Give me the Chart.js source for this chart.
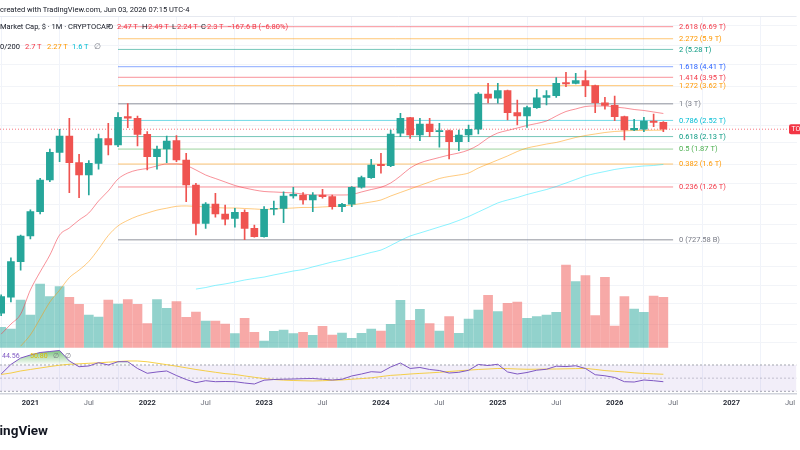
<!DOCTYPE html>
<html><head><meta charset="utf-8">
<script src="https://cdn.jsdelivr.net/npm/chart.js@4.4.1/dist/chart.umd.min.js"></script>
<style>
html,body{margin:0;padding:0;background:#fff;}
#wrap{position:relative;width:800px;height:450px;overflow:hidden;font-family:Roboto,'Noto Sans',sans-serif;}
canvas{position:absolute;left:0;top:0;}
.t{position:absolute;white-space:pre;font-size:7.5px;line-height:1;color:#131722;}
.r{color:#f23645;}
</style></head><body>
<div id="wrap">
<canvas id="c" width="800" height="450"></canvas>
<div class="t" style="left:0;top:6px;">created with TradingView.com, Jun 03, 2026 07:15 UTC-4</div>
<div class="t" style="left:0;top:23px;">Market Cap, $ · 1M · CRYPTOCAP</div>
<div class="t" style="left:108px;top:23px;">O</div>
<div class="t r" style="left:117px;top:23px;">2.47 T</div>
<div class="t" style="left:142px;top:23px;">H</div>
<div class="t r" style="left:148px;top:23px;">2.49 T</div>
<div class="t" style="left:172px;top:23px;">L</div>
<div class="t r" style="left:177px;top:23px;">2.24 T</div>
<div class="t" style="left:201px;top:23px;">C</div>
<div class="t r" style="left:207px;top:23px;">2.3 T</div>
<div class="t r" style="left:227px;top:23px;">−167.6 B (−6.80%)</div>
<div class="t" style="left:0;top:43px;">0/200</div>
<div class="t" style="left:25px;top:43px;color:#f23645;">2.7 T</div>
<div class="t" style="left:47px;top:43px;color:#ff9800;">2.27 T</div>
<div class="t" style="left:72px;top:43px;color:#00bcd4;">1.6 T</div>
<div class="t" style="left:94px;top:43px;color:#787b86;">∅</div>
<div class="t" style="left:2px;top:353px;font-size:7px;color:#7e57c2;">44.56</div>
<div class="t" style="left:30px;top:353px;font-size:7px;color:#e0b800;">50.80</div>
<div class="t" style="left:53px;top:353px;font-size:7px;color:#787b86;">∅</div>
<div class="t" style="left:65px;top:353px;font-size:7px;color:#787b86;">∅</div>
<div class="t" style="right:752px;top:424px;font-size:13.5px;font-weight:bold;color:#131722;">TradingView</div>
</div>
<script>
// ---------- DATA (values in trillions USD, month keys) ----------
const dates = ['2020-10','2020-11','2020-12',
 '2021-01','2021-02','2021-03','2021-04','2021-05','2021-06','2021-07','2021-08','2021-09','2021-10','2021-11','2021-12',
 '2022-01','2022-02','2022-03','2022-04','2022-05','2022-06','2022-07','2022-08','2022-09','2022-10','2022-11','2022-12',
 '2023-01','2023-02','2023-03','2023-04','2023-05','2023-06','2023-07','2023-08','2023-09','2023-10','2023-11','2023-12',
 '2024-01','2024-02','2024-03','2024-04','2024-05','2024-06','2024-07','2024-08','2024-09','2024-10','2024-11','2024-12',
 '2025-01','2025-02','2025-03','2025-04','2025-05','2025-06','2025-07','2025-08','2025-09','2025-10','2025-11','2025-12',
 '2026-01','2026-02','2026-03','2026-04','2026-05','2026-06'];
const open = [0.338,0.40,0.579,
 0.756,0.974,1.355,1.808,2.143,1.623,1.427,1.612,2.084,1.951,2.62,2.577,
 2.181,1.727,1.871,2.041,1.669,1.286,0.863,1.055,0.951,0.909,0.968,0.819,
 0.751,0.999,1.009,1.147,1.159,1.10,1.159,1.139,1.026,1.052,1.256,1.388,
 1.596,1.573,2.204,2.593,2.165,2.428,2.241,2.265,2.02,2.165,2.298,3.319,
 3.174,3.435,2.732,2.639,2.878,3.206,3.261,3.734,3.71,3.812,3.619,3.031,
 2.95,2.62,2.281,2.298,2.505,2.47];
const high = [0.41,0.602,0.764,
 0.992,1.379,1.871,2.298,2.577,1.771,1.657,2.188,2.446,2.732,3.0,2.639,
 2.241,1.931,2.143,2.15,1.79,1.309,1.07,1.18,1.044,1.009,0.992,0.848,
 1.026,1.089,1.199,1.256,1.187,1.187,1.23,1.159,1.063,1.264,1.413,1.681,
 1.79,2.281,2.714,2.604,2.577,2.577,2.446,2.281,2.281,2.403,3.364,3.71,
 3.71,3.46,3.118,2.929,3.485,3.435,3.933,4.161,4.118,4.231,3.641,3.206,
 3.25,2.639,2.55,2.604,2.695,2.49];
const low = [0.33,0.38,0.53,
 0.733,0.951,1.331,1.64,1.187,1.127,1.159,1.515,1.758,1.917,2.336,1.931,
 1.504,1.515,1.623,1.64,1.081,0.764,0.819,0.919,0.848,0.828,0.72758,0.746,
 0.746,0.941,0.868,1.12,1.052,0.974,1.12,0.999,0.974,1.026,1.243,1.379,
 1.453,1.557,2.127,2.092,2.041,2.127,1.905,1.686,1.839,2.02,2.188,3.022,
 3.013,2.531,2.403,2.346,2.858,2.96,3.206,3.581,3.683,3.227,2.732,2.83,
 2.513,2.055,2.265,2.241,2.361,2.24];
const close = [0.402,0.579,0.756,
 0.974,1.355,1.808,2.143,1.623,1.427,1.612,2.084,1.951,2.604,2.577,2.181,
 1.727,1.866,2.034,1.669,1.286,0.863,1.055,0.951,0.90,0.968,0.819,0.751,
 0.999,1.009,1.147,1.167,1.10,1.159,1.139,1.026,1.052,1.256,1.388,1.584,
 1.573,2.188,2.577,2.165,2.428,2.241,2.258,2.02,2.165,2.298,3.319,3.174,
 3.435,2.732,2.639,2.878,3.193,3.261,3.71,3.683,3.812,3.619,3.031,2.95,
 2.62,2.281,2.322,2.505,2.47,2.30];
const volume = [200,183,473,
 323,633,506,606,500,430,323,303,473,433,476,430,
 236,476,390,456,300,353,263,263,233,136,290,150,
 63,160,173,136,150,120,210,123,143,90,140,183,
 163,230,470,270,380,236,163,306,140,283,373,520,
 356,440,453,290,306,323,350,823,656,716,316,700,
 213,506,383,350,513,500];
// moving averages (start month, values)
const maFastStart = '2020-10';
const maFast = [0.272,0.302,0.335,
 0.431,0.520,0.620,0.764,0.822,0.893,0.961,1.089,1.209,1.369,1.457,1.504,
 1.528,1.568,1.601,1.601,1.576,1.504,1.427,1.376,1.327,1.28,1.247,1.221,
 1.202,1.196,1.19,1.184,1.171,1.159,1.159,1.159,1.159,1.165,1.196,1.227,
 1.256,1.313,1.413,1.535,1.618,1.669,1.713,1.758,1.795,1.852,1.951,2.099,
 2.211,2.27,2.329,2.391,2.441,2.505,2.639,2.766,2.839,2.914,2.929,2.929,
 2.898,2.869,2.824,2.795,2.752,2.709];
const maMidStart = '2020-12';
const maMid = [0.24,
 0.27,0.32,0.38,0.43,0.49,0.53,0.58,0.66,0.76,0.84,0.89,0.93,
 0.96,0.99,1.01,1.03,1.034,1.03,1.023,1.018,1.012,1.012,1.007,1.002,
 0.997,1.002,1.007,1.012,1.018,1.018,1.023,1.028,1.034,1.044,1.061,1.078,
 1.10,1.147,1.19,1.234,1.28,1.327,1.376,1.405,1.427,1.457,1.535,1.601,
 1.669,1.74,1.823,1.891,1.931,1.971,2.003,2.055,2.11,2.154,2.188,2.222,
 2.246,2.258,2.27,2.27,2.275,2.277];
const maSlowStart = '2022-06';
const maSlow = [0.435,0.442,0.452,0.459,0.468,0.478,0.486,
 0.493,0.504,0.514,0.525,0.533,0.548,0.562,0.577,0.589,0.604,0.620,0.637,
 0.653,0.685,0.722,0.756,0.780,0.805,0.831,0.857,0.889,0.926,0.971,1.018,
 1.067,1.10,1.129,1.165,1.196,1.227,1.266,1.313,1.362,1.413,1.45,1.48,
 1.512,1.535,1.552,1.568,1.576,1.593];
const rsi = [56.3,70.8,80.6,
 85.2,89.0,90.5,92.1,76.1,67.4,68.5,73.5,70.0,75.0,75.0,64.7,
 57.4,59.4,60.9,54.0,47.9,43.1,46.1,44.6,44.9,44.6,42.6,41.1,
 46.9,47.9,48.4,48.7,49.2,49.5,48.3,47.2,48.3,53.3,56.3,59.8,
 58.9,67.0,73.0,64.7,66.2,63.2,61.6,57.8,58.9,61.9,70.8,69.2,
 71.1,59.4,56.3,58.6,62.1,63.5,68.2,67.6,68.8,64.7,55.2,53.6,
 51.0,44.6,44.1,47.2,46.1,44.56];
const rsiMa = [55.6,57.8,60.9,
 63.2,65.4,67.7,69.7,71.1,71.8,72.6,73.3,74.3,75.2,76.1,76.1,
 74.9,72.7,70.5,68.2,65.7,63.2,61.0,58.9,56.9,55.6,53.4,51.3,
 49.3,47.9,47.0,46.4,46.0,45.7,46.1,46.7,47.3,48.3,49.3,50.5,
 52.4,54.2,55.1,56.3,57.2,58.0,58.9,60.1,61.2,62.2,63.2,63.9,
 64.7,64.5,63.9,63.5,63.6,63.8,63.9,64.2,64.5,64.8,63.3,61.5,
 60.4,59.4,58.1,57.2,56.5,55.9];
const rsiLevels = [70, 50, 30];
// Fibonacci retracement (Nov 2022 low -> Nov 2021 high)
const fibRatios = ['0','0.236','0.382','0.5','0.618','0.786','1','1.272','1.414','1.618','2','2.272','2.618'];
const fibValues = [0.72758,1.26,1.6,1.87,2.13,2.52,3.0,3.62,3.95,4.41,5.28,5.9,6.69];
const fibTexts = ['727.58 B','1.26 T','1.6 T','1.87 T','2.13 T','2.52 T','3 T','3.62 T','3.95 T','4.41 T','5.28 T','5.9 T','6.69 T'];
const fibColors = ['#787b86','#f23645','#ff9800','#4caf50','#089981','#00bcd4','#787b86','#ff9800','#f23645','#2962ff','#089981','#ff9800','#f23645'];
const fibStart = '2021-10', fibEnd = '2026-07';
const lastClose = 2.30;
// time axis
const axisTicks = ['2021-01','2021-07','2022-01','2022-07','2023-01','2023-07','2024-01','2024-07','2025-01','2025-07','2026-01','2026-07','2027-01','2027-07'];
const axisLabels = ['2021','Jul','2022','Jul','2023','Jul','2024','Jul','2025','Jul','2026','Jul','2027','Jul'];
const priceGrid = [0.25,0.3,0.375,0.45,0.55,0.7,0.85,1.05,1.3,1.6,2.0,2.4,3.0,3.6,4.5,5.5,6.8];
// visible ranges (months since Jan 2021 / trillions / volume units / RSI)
const viewFrom = -3.12, viewTo = 78.68;
const PRICE_MIN = 0.1458, PRICE_MAX = 7.479;
const VOL_MIN = -467, VOL_MAX = 3313;
const RSI_MIN = 25.89, RSI_MAX = 600.8;

// ---------- helpers ----------
const mIdx = s => { const [yy, mm] = s.split('-').map(Number); return (yy - 2021) * 12 + (mm - 1); };
const xs = dates.map(mIdx);
const up = close.map((c, i) => c >= open[i]);
const UP = '#26a69a', DOWN = '#ef5350';
const series = (start, vals) => vals.map((v, i) => ({x: mIdx(start) + i, y: v}));
const hline = (v) => [{x: viewFrom, y: v}, {x: viewTo, y: v}];
const hexA = (hex, a) => { const n = parseInt(hex.slice(1), 16); return `rgba(${n>>16},${(n>>8)&255},${n&255},${a})`; };

const datasets = [];
datasets.push({type:'bar', label:'body', yAxisID:'y', order:1, grouped:false, barThickness:7, minBarLength:1,
  data: xs.map((x, i) => ({x, y:[open[i], close[i]]})), backgroundColor: up.map(u => u ? UP : DOWN)});
datasets.push({type:'bar', label:'wick', yAxisID:'y', order:2, grouped:false, barThickness:1,
  data: xs.map((x, i) => ({x, y:[low[i], high[i]]})), backgroundColor: up.map(u => u ? UP : DOWN)});
const lineBase = {type:'line', pointRadius:0, borderWidth:1, fill:false, cubicInterpolationMode:'monotone'};
datasets.push({...lineBase, label:'maFast', yAxisID:'y', order:3, data: series(maFastStart, maFast), borderColor:'rgba(242,54,69,0.55)'});
datasets.push({...lineBase, label:'maMid', yAxisID:'y', order:3, data: series(maMidStart, maMid), borderColor:'rgba(255,152,0,0.5)'});
datasets.push({...lineBase, label:'maSlow', yAxisID:'y', order:3, data: series(maSlowStart, maSlow), borderColor:'rgba(0,229,255,0.45)'});
fibValues.forEach((v, i) => {
  datasets.push({type:'line', label:'fib'+fibRatios[i], yAxisID:'y', order:5, pointRadius:0, fill:false,
    borderWidth: fibColors[i] === '#787b86' ? 1.5 : 1,
    borderColor: hexA(fibColors[i], 0.55),
    data: [{x: mIdx(fibStart), y: v}, {x: mIdx(fibEnd), y: v}]});
});
datasets.push({type:'line', label:'last', yAxisID:'y', order:4, pointRadius:0, borderWidth:1, borderDash:[1,2],
  borderColor:'rgba(242,54,69,0.7)', fill:false, data: hline(lastClose)});
datasets.push({type:'bar', label:'volume', yAxisID:'yVol', order:10, grouped:false, barThickness:9,
  data: xs.map((x, i) => ({x, y: volume[i]})), backgroundColor: up.map(u => u ? 'rgba(38,166,154,0.5)' : 'rgba(239,83,80,0.5)')});
// RSI pane
datasets.push({type:'line', label:'band', yAxisID:'yRsi', order:9, pointRadius:0, borderWidth:1, borderDash:[2,2],
  borderColor:'#a3a6af', backgroundColor:'rgba(126,87,194,0.1)', fill:{target:{value: rsiLevels[2]}}, data: hline(rsiLevels[0])});
datasets.push({type:'line', label:'mid', yAxisID:'yRsi', order:9, pointRadius:0, borderWidth:1, borderDash:[2,2],
  borderColor:'rgba(120,123,134,0.4)', fill:false, data: hline(rsiLevels[1])});
datasets.push({type:'line', label:'low', yAxisID:'yRsi', order:9, pointRadius:0, borderWidth:1, borderDash:[2,2],
  borderColor:'#a3a6af', fill:false, data: hline(rsiLevels[2])});
datasets.push({type:'line', label:'rsiMa', yAxisID:'yRsi', order:7, pointRadius:0, borderWidth:1, fill:false,
  borderColor:'rgba(245,200,40,0.85)', data: series(dates[0], rsiMa)});
datasets.push({type:'line', label:'rsi', yAxisID:'yRsi', order:6, pointRadius:0, borderWidth:1,
  borderColor:'#7e57c2',
  backgroundColor: (ctx) => {
    const ch = ctx.chart; const s = ch.scales && ch.scales.yRsi;
    if (!ch.chartArea || !s) return 'rgba(76,175,80,0.4)';
    const a = s.getPixelForValue(100), b = s.getPixelForValue(rsiLevels[0]);
    if (!isFinite(a) || !isFinite(b)) return 'rgba(76,175,80,0.4)';
    const g = ch.ctx.createLinearGradient(0, a, 0, b);
    g.addColorStop(0, 'rgba(76,175,80,1)'); g.addColorStop(1, 'rgba(76,175,80,0)');
    return g;
  },
  fill:{target:{value: rsiLevels[0]}, below:'rgba(0,0,0,0)'},
  data: series(dates[0], rsi)});

const overlay = {
  id:'overlay',
  beforeDatasetsDraw(chart){
    const {ctx, chartArea} = chart;
    ctx.save(); ctx.strokeStyle = '#e6e9f0'; ctx.lineWidth = 1;
    ctx.beginPath(); ctx.moveTo(chartArea.left, chartArea.top + 0.5); ctx.lineTo(chartArea.right, chartArea.top + 0.5); ctx.stroke();
    ctx.restore();
  },
  afterDraw(chart){
    const {ctx, scales:{x, y}} = chart;
    ctx.save();
    ctx.font = '7.5px Roboto';
    ctx.textBaseline = 'middle'; ctx.textAlign = 'left';
    const lx = x.getPixelForValue(mIdx(fibEnd)) + 6;
    fibValues.forEach((v, i) => {
      ctx.fillStyle = fibColors[i];
      ctx.fillText(`${fibRatios[i]} (${fibTexts[i]})`, lx, y.getPixelForValue(v) + 0.5);
    });
    const py = y.getPixelForValue(lastClose);
    ctx.fillStyle = '#f23645';
    ctx.beginPath(); ctx.roundRect(789, py - 5, 30, 10, 2); ctx.fill();
    ctx.fillStyle = '#ffffff'; ctx.font = '7px Roboto';
    ctx.fillText('TOTAL', 791.5, py + 0.5);
    ctx.restore();
  }
};

new Chart(document.getElementById('c'), {
  type:'bar',
  data:{datasets},
  options:{
    responsive:false, animation:false, devicePixelRatio:1,
    layout:{padding:{top:16, left:0, right:0, bottom:0}},
    plugins:{legend:{display:false}, tooltip:{enabled:false}},
    scales:{
      x:{type:'linear', axis:'x', position:'bottom', min:viewFrom, max:viewTo, offset:false,
        afterBuildTicks: s => { s.ticks = axisTicks.map(d => ({value: mIdx(d)})); },
        afterFit: s => { s.height = 56; },
        grid:{color:'#f0f3fa', drawTicks:false},
        border:{color:'#d1d4dc', width:1.5},
        ticks:{padding:5, maxRotation:0, autoSkip:false,
          callback:(v, i) => axisLabels[i],
          color: c => axisLabels[c.index] === 'Jul' ? '#6a6d78' : '#2a2e39',
          font: c => ({family:'Roboto', size:7.5, weight: axisLabels[c.index] === 'Jul' ? 'normal' : 'bold'})}},
      y:{type:'logarithmic', axis:'y', position:'right', min:PRICE_MIN, max:PRICE_MAX,
        afterBuildTicks: s => { s.ticks = priceGrid.map(v => ({value: v})); },
        afterFit: s => { s.width = 0; },
        ticks:{display:false}, border:{display:false},
        grid:{color:'#f2f4f8', drawTicks:false}},
      yVol:{type:'linear', axis:'y', position:'right', display:false, min:VOL_MIN, max:VOL_MAX},
      yRsi:{type:'linear', axis:'y', position:'right', display:false, min:RSI_MIN, max:RSI_MAX}
    }
  },
  plugins:[overlay]
});
</script>
</body></html>
